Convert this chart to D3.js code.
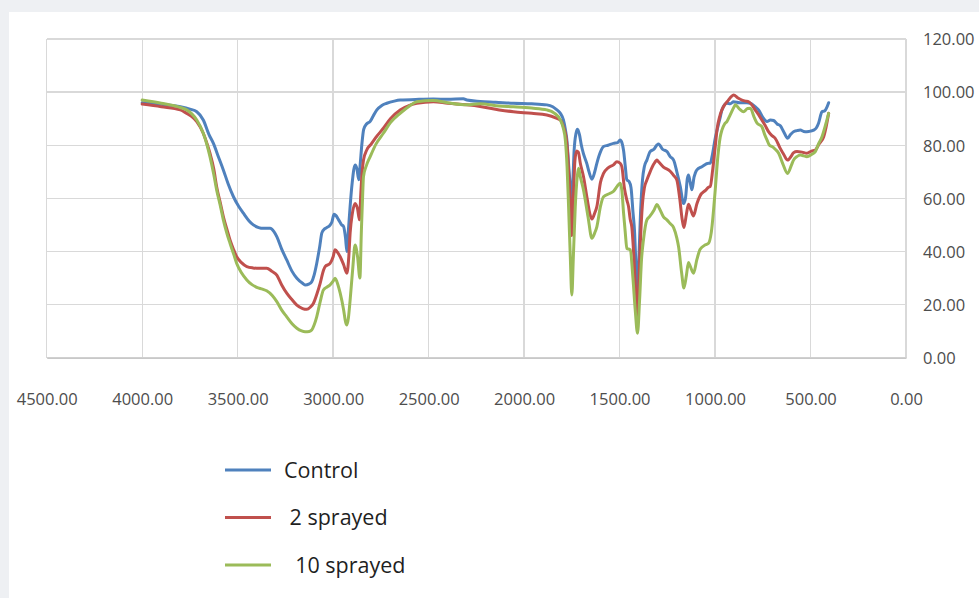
<!DOCTYPE html>
<html>
<head>
<meta charset="utf-8">
<script src="https://cdn.jsdelivr.net/npm/d3@7"></script>
<style>
  html, body { margin: 0; padding: 0; background: #eef0f3; }
  svg { display: block; }
  text { font-family: "Open Sans", "Noto Sans", sans-serif; }
</style>
</head>
<body>
<svg id="chart" width="979" height="598"></svg>
<script>
// ---- Data ----
const xTicks = [4500, 4000, 3500, 3000, 2500, 2000, 1500, 1000, 500, 0];
const yTicks = [0, 20, 40, 60, 80, 100, 120];
const seriesNames = ["Control", " 2 sprayed", "  10 sprayed"];
const seriesColors = ["#4f81bd", "#c0504d", "#9bbb59"];

const controlWavenumber = [4000,3900,3800,3750,3714,3680,3650,3627,3600,3575,3550,3522,3495,3470,3440,3418,3390,3365,3330,3310,3295,3270,3243,3215,3190,3160,3147,3125,3112,3100,3086,3070,3059,3045,3033,3015,3007,2995,2985,2972,2955,2946,2935,2928,2920,2911,2900,2885,2875,2866,2858,2850,2840,2825,2806,2790,2771,2745,2719,2680,2649,2550,2475,2400,2318,2300,2230,2149,2056,1960,1881,1850,1828,1810,1794,1784,1776,1768,1760,1752,1745,1738,1728,1720,1710,1700,1690,1671,1660,1645,1630,1619,1600,1584,1560,1532,1510,1497,1488,1479,1470,1462,1450,1440,1430,1421,1415,1409,1400,1390,1380,1370,1357,1340,1320,1304,1296,1275,1252,1235,1217,1200,1182,1165,1155,1145,1139,1130,1121,1110,1104,1095,1069,1034,1025,1015,999,985,972,964,938,920,903,870,833,815,790,772,750,728,710,693,675,658,640,620,605,589,570,553,536,519,500,484,470,458,440,425,405];
const controlValues = [96.0,95.4,94.5,93.6,92.6,89.5,84,80.7,75.5,70.7,65.5,60.6,57,54.4,51.5,50.0,49,48.7,48.7,47.5,45.6,41,36.8,32.5,29.9,28,27.4,27.8,28.6,31,35.5,42,47,48.5,49,50,51,54,53.5,52,50,49.5,45,40,48,57,66,72.6,71,67,73,80,86,88,89,91,93.3,95,95.8,96.6,97,97.3,97.4,97.3,97.5,97,96.5,96.2,95.8,95.6,95.2,94.5,93.3,92,89.5,86,82,74,66,60,66,78,84.5,86,84,80,77,73,70,67.2,70,73.2,77.5,79.5,80,80.7,81,82,81,78,72,67,66.3,64,55,46.8,36,24.3,35,55,67,72,74.4,77.6,78.5,80.1,80.5,78.5,77.6,75.7,74.4,70,64.4,58.1,60,67.5,68.8,66,63.2,68,69.4,70.7,71.9,73.2,73.2,76,82.6,87,90.8,93.3,95.8,95.6,96.4,96,96,95.8,94.5,93.3,90.5,88.9,89.5,89.3,88,87.3,85,82.6,84,85.1,85.5,85.7,85.2,85.1,85.3,85.7,86.5,88.3,92.6,93,96.0];

const sprayed2Wavenumber = [4000,3900,3800,3767,3740,3714,3680,3660,3645,3625,3610,3590,3575,3555,3540,3520,3505,3480,3452,3420,3400,3348,3320,3295,3270,3243,3215,3190,3160,3138,3120,3103,3085,3068,3050,3042,3016,3000,2990,2975,2963,2945,2928,2918,2911,2900,2885,2872,2862,2855,2848,2841,2824,2800,2770,2737,2700,2649,2600,2562,2475,2400,2300,2230,2130,2056,1960,1881,1828,1810,1794,1780,1773,1765,1758,1750,1742,1734,1725,1716,1705,1689,1670,1655,1645,1630,1619,1600,1584,1560,1532,1514,1497,1488,1475,1462,1453,1444,1436,1425,1415,1409,1402,1392,1380,1370,1357,1340,1320,1304,1296,1270,1235,1215,1200,1185,1172,1163,1150,1139,1126,1113,1095,1078,1050,1034,1025,1012,999,990,975,964,956,930,915,903,880,859,840,825,805,790,772,755,738,720,700,685,660,640,620,600,589,571,545,519,495,475,455,431,418,405];
const sprayed2Values = [95.5,94.5,93.3,92.0,90.8,88.9,84.5,80.5,77.0,71,64.4,58,53.1,48,44.3,40.5,38.0,35.8,34.3,33.8,33.7,33.7,32.5,31.1,27.5,24.3,21.8,19.8,18.5,18.2,19,20.5,24,28.0,33,34.3,35.5,38,40.6,39.5,38.0,35,31.8,38,47,54,58.1,56,51.9,62,70,74.4,78.2,80.5,83.5,86.4,90,93.3,95,95.8,96.4,95.8,95.2,94.6,93.3,92.6,92,91.4,90.1,89.5,87,83,78.2,68,59.4,46.0,60,74,77.8,77.4,73,68.2,60,54,52.2,54.5,56.9,66,69.4,71.5,72.6,73.8,73.2,71.9,64,59.4,56.9,52,49.3,38,24,14.2,22,42,58,64,66.9,70,73,74.4,73.8,71.8,70.2,68.5,66.9,60,52,49.0,54,57.8,55.5,53.4,58,61,63,64.2,64.5,71,79.5,85.7,91,93.3,94.5,97,98.3,98.9,97.8,97.0,96.6,96.4,95,93.3,91.5,89.5,87.5,85.1,83.5,82.6,79,76.5,74.4,76,77.2,77.6,77.4,77.0,77.8,78.2,80.5,83.2,87,92.0];

const sprayed10Wavenumber = [4000,3900,3800,3767,3740,3714,3680,3660,3645,3625,3610,3590,3575,3555,3540,3520,3505,3480,3452,3425,3400,3370,3348,3320,3295,3270,3243,3215,3190,3165,3147,3125,3112,3100,3086,3068,3051,3030,3016,3000,2990,2975,2963,2945,2935,2928,2920,2911,2898,2885,2872,2860,2852,2845,2841,2825,2806,2775,2737,2700,2649,2600,2562,2475,2400,2300,2230,2130,2056,1960,1881,1840,1810,1795,1784,1775,1767,1758,1750,1742,1732,1722,1715,1705,1689,1665,1645,1630,1619,1600,1584,1549,1530,1514,1497,1488,1479,1470,1462,1444,1430,1418,1406,1395,1385,1375,1357,1344,1320,1304,1290,1270,1252,1235,1217,1200,1191,1175,1163,1150,1139,1130,1113,1095,1078,1050,1034,1020,999,985,973,964,950,938,920,900,894,870,851,830,815,795,780,755,740,728,715,702,685,667,645,620,600,589,570,553,536,519,495,475,458,440,420,405];
const sprayed10Values = [97.0,95.8,94.2,93.3,91.8,89.5,84.5,80,75.7,69,63.2,57,51.9,46.5,43.1,38.8,35.5,32,29.3,27.5,26.5,25.8,25.2,23.5,21.1,18,15.4,12.8,11.1,10.1,9.8,9.9,10.4,12.2,15.4,21,25.5,26.7,27.4,28.8,29.9,27.5,24.3,18,13.5,12.3,15,21.7,33,42.4,38,30,48,62,68.2,72.5,75.7,80.5,84.5,88.5,92.0,94.8,96.4,96.8,96,95.2,95.6,94.8,94.5,94,93.3,92,89.5,86.5,82.0,72,56.9,38,23.6,38,56.9,68,71.3,68,63.2,53,45.0,47,49.3,57,60.6,61.9,62.8,64.4,65.7,63,54.4,47,41.2,40.6,30,18,9.2,22,37,44.3,51.9,53,55.5,57.7,56,53,51.9,50.5,49.0,45,41.8,32,26.2,31,35.8,34.5,31.8,37,40.8,42.5,43.1,47,63.2,76,83,85.7,88,88.9,91.5,94.5,95.2,93.5,92.6,93.8,93.9,90.5,88.3,87.0,84,82.0,80,79.5,78.5,77.0,73,69.4,72.5,74.4,75.8,76.3,76,75.7,76.5,77.6,80.5,83.2,88,92.0];

// ---- Build series table ----
const series = [
  {name: seriesNames[0], color: seriesColors[0], wn: controlWavenumber, val: controlValues},
  {name: seriesNames[1], color: seriesColors[1], wn: sprayed2Wavenumber, val: sprayed2Values},
  {name: seriesNames[2], color: seriesColors[2], wn: sprayed10Wavenumber, val: sprayed10Values}
].map(s => ({...s, points: s.wn.map((w, i) => [w, s.val[i]])}));

// ---- Layout ----
const W = 979, H = 598;
const plot = {left: 46.7, right: 906, top: 39, bottom: 357.7};
const svg = d3.select("#chart");

svg.append("rect").attr("x", 0).attr("y", 0).attr("width", W).attr("height", H).attr("fill", "#eef0f3");
svg.append("rect").attr("x", 9).attr("y", 12).attr("width", W - 9).attr("height", H - 12).attr("fill", "#ffffff");

const x = d3.scaleLinear().domain([4500, 0]).range([plot.left, plot.right]);
const y = d3.scaleLinear().domain([0, 120]).range([plot.bottom, plot.top]);
const fmt = d3.format(".2f");

// Gridlines
const grid = svg.append("g").attr("stroke", "#d9d9d9").attr("stroke-width", 1.3).attr("shape-rendering", "crispEdges");
grid.selectAll("line.v").data(xTicks).join("line")
  .attr("x1", d => x(d)).attr("x2", d => x(d))
  .attr("y1", plot.top).attr("y2", plot.bottom);
grid.selectAll("line.h").data(yTicks).join("line")
  .attr("x1", plot.left).attr("x2", plot.right)
  .attr("y1", d => y(d)).attr("y2", d => y(d));

// Bottom axis
const xAxis = d3.axisBottom(x).tickValues(xTicks).tickFormat(fmt).tickSize(0).tickPadding(0);
const gx = svg.append("g").attr("transform", `translate(0,${plot.bottom})`).call(xAxis);
gx.select(".domain").attr("stroke", "#c8c8c8").attr("stroke-width", 1.5);
gx.selectAll("text")
  .attr("dy", null).attr("y", 47)
  .attr("font-size", 16.5).attr("fill", "#4d4d4d")
  .style("font-family", '"Open Sans", sans-serif');

// Right-side value labels
const yAxis = d3.axisRight(y).tickValues(yTicks).tickFormat(fmt).tickSize(0).tickPadding(0);
const gy = svg.append("g").attr("transform", `translate(923,0)`).call(yAxis);
gy.select(".domain").remove();
gy.selectAll("text")
  .attr("x", 0).attr("dy", "0.35em")
  .attr("font-size", 16.5).attr("fill", "#4d4d4d")
  .style("font-family", '"Open Sans", sans-serif');

// Lines
const line = d3.line().x(d => x(d[0])).y(d => y(d[1])).curve(d3.curveMonotoneX);
svg.append("g").selectAll("path").data(series).join("path")
  .attr("d", d => line(d.points))
  .attr("fill", "none")
  .attr("stroke", d => d.color)
  .attr("stroke-width", 3)
  .attr("stroke-linejoin", "round")
  .attr("stroke-linecap", "round");

// Legend
const legend = svg.append("g").attr("transform", "translate(225,470)");
const item = legend.selectAll("g").data(series).join("g")
  .attr("transform", (d, i) => `translate(0,${i * 47.5})`);
item.append("line").attr("x1", 0).attr("x2", 46).attr("y1", 0).attr("y2", 0)
  .attr("stroke", d => d.color).attr("stroke-width", 3.2);
item.append("text")
  .attr("x", 59).attr("y", 0).attr("dy", "0.35em")
  .attr("font-size", 21.5).attr("fill", "#1f1f1f")
  .style("white-space", "pre")
  .text(d => d.name);
</script>
</body>
</html>
